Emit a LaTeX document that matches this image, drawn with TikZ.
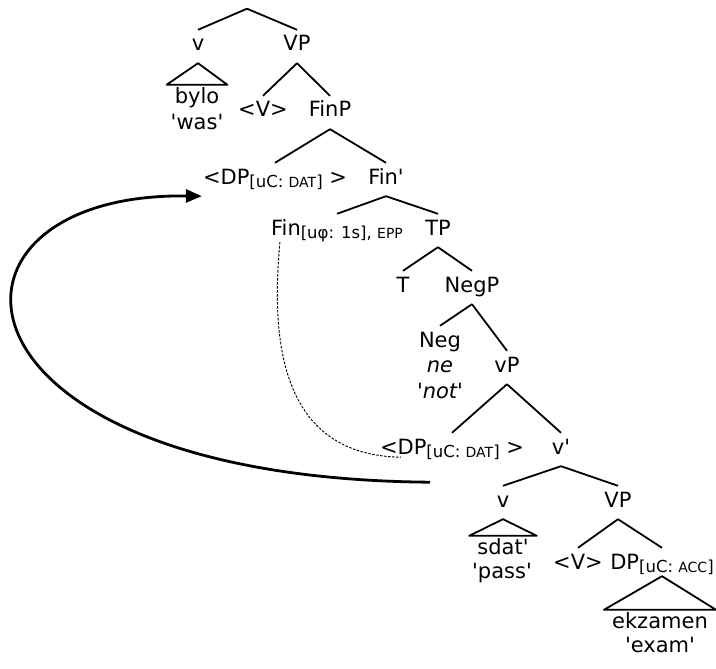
\documentclass[tikz,border=0pt]{standalone}
\usepackage{fontspec}
\setmainfont{DejaVu Sans}
\usetikzlibrary{arrows.meta}

\newcommand{\tq}{\textquotesingle}
\newcommand{\featsub}[1]{\raisebox{-3pt}{\fontsize{16.5}{16.5}\selectfont #1}}
\newcommand{\featcap}[1]{{\fontsize{14}{14}\selectfont #1}}

\begin{document}
\begin{tikzpicture}[x=1pt, y=-1pt, font=\fontsize{21}{25}\selectfont,
  cat/.style={anchor=base, inner xsep=1pt, inner ysep=7pt, text height=14pt, text depth=5pt},
  leaf/.style={anchor=base, inner xsep=8pt, inner ysep=4pt, text height=14pt, text depth=5pt},
  gloss/.style={anchor=base, inner sep=0pt},
  branch/.style={line width=1.8pt, line join=round},
  move/.style={line width=2.8pt, -{Triangle[length=16pt,width=13pt]}},
  agree/.style={line width=0.9pt, dash pattern=on 2.5pt off 1.5pt}]
  \useasboundingbox (0,0) rectangle (716,669);
  % Upper vP shell.
  \node[inner sep=0pt] (root) at (247,8) {};
  \node[cat] (v1) at (198,51) {v};
  \node[cat] (VP1) at (297,51) {VP};
  \node[leaf] (bylo) at (197,103) {bylo};
  \node[gloss] (was) at (197,130) {\tq was\tq};
  \node[cat] (Va) at (263,117) {<V>};
  \node[cat] (FinP) at (330,117) {FinP};
  % FinP and the moved dative.
  \node[cat] (DPa) at (275,184) {<DP\featsub{[uC: \featcap{DAT}]} >};
  \node[cat] (Finbar) at (386,184) {Fin\tq};
  \node[cat] (Fin) at (337,235) {Fin\featsub{[uφ: 1s], \featcap{EPP}}};
  \node[cat] (TP) at (438,235) {TP};
  \node[cat] (T) at (403,292) {T};
  \node[cat] (NegP) at (472,292) {NegP};
  \node[cat] (Neg) at (440,347) {Neg};
  \node[gloss] (ne) at (440,372) {\textit{ne}};
  \node[gloss] (not) at (440,398) {\textit{\tq not\tq}};
  \node[cat] (vP) at (507,372) {vP};
  % Lower vP.
  \node[cat] (DPb) at (452,454) {<DP\featsub{[uC: \featcap{DAT}]} >};
  \node[cat] (vbar) at (561,454) {v\tq};
  \node[cat] (vb) at (503,507) {v};
  \node[cat] (VPb) at (618,507) {VP};
  \node[leaf] (sdat) at (503,554) {sdat\tq};
  \node[gloss] (pass) at (502,578) {\tq pass\tq};
  \node[cat] (Vb) at (578,569) {<V>};
  \node[cat] (DPc) at (662,569) {DP\featsub{[uC: \featcap{ACC}]}};
  \node[leaf] (ekzamen) at (660,628) {ekzamen};
  \node[gloss] (exam) at (660,652) {\tq exam\tq};
  % Branches.
  \foreach \p/\c in {root/v1, root/VP1, VP1/Va, VP1/FinP, FinP/DPa, FinP/Finbar,
      Finbar/Fin, Finbar/TP, TP/T, TP/NegP, NegP/Neg, NegP/vP, vP/DPb, vP/vbar,
      vbar/vb, vbar/VPb, VPb/Vb, VPb/DPc}
    \draw[branch] (\p.south) -- (\c.north);
  % Triangles.
  \draw[branch] (v1.south) -- (bylo.north west) -- (bylo.north east) -- cycle;
  \draw[branch] (vb.south) -- (sdat.north west) -- (sdat.north east) -- cycle;
  \draw[branch] ([yshift=5pt]DPc.south) -- (ekzamen.north west) -- (ekzamen.north east) -- cycle;
  % Movement and agreement.
  \draw[move] ([xshift=-22pt,yshift=-16pt]DPb.south) .. controls (-70,478) and (-85,192) .. (DPa.south west);
  \draw[agree] ([xshift=10pt,yshift=5pt]Fin.south west) .. controls (272,330) and (275,455) .. ([xshift=22pt,yshift=9pt]DPb.south west);
\end{tikzpicture}
\end{document}
